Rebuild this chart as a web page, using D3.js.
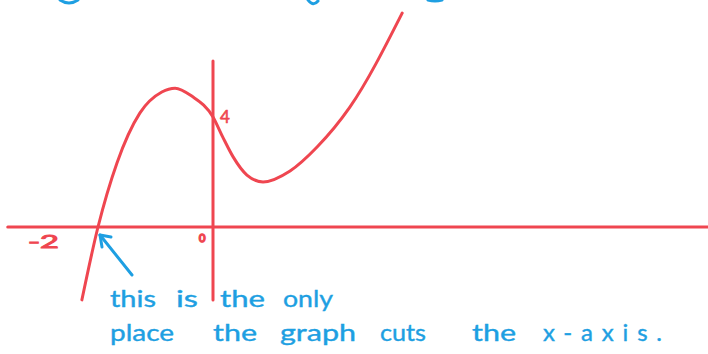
<!DOCTYPE html>
<html>
<head>
<meta charset="utf-8">
<script src="https://cdn.jsdelivr.net/npm/d3@7"></script>
<style>
  html, body { margin: 0; padding: 0; background: #ffffff; }
  svg { display: block; }
</style>
</head>
<body>
<svg id="chart" width="708" height="354"></svg>
<script>
// ---- data ----
const curveX = [-2.28, -2, -1.67, -1.27, -0.89, -0.66, -0.37, 0, 0.17, 0.35, 0.59, 0.87, 1.34, 1.81, 2.38, 3.29];
const curveY = [-2.65, 0, 2.33, 4.15, 4.91, 5.05, 4.76, 4, 3.27, 2.55, 1.89, 1.64, 2.04, 2.91, 4.36, 7.78];
const xAxisExtent = [-3.57, 8.6];
const yAxisExtent = [-2.65, 6.04];
const xTickLabels = ["-2", "0"];
const xTickValues = [-2, 0];
const yTickLabels = ["4"];
const yTickValues = [4];
const root = [-2, 0];
const noteLine1 = ["this", "is", "the", "only"];
const noteLine2 = ["place", "the", "graph", "cuts", "the", "x-axis."];

// ---- layout ----
const RED = "#ef4650";
const BLUE = "#1e9fe2";
const svg = d3.select("#chart");

const x = d3.scaleLinear().domain([-2, 0]).range([98, 213]);
const y = d3.scaleLinear().domain([0, 4]).range([227, 117]);

// axes
svg.append("line")
  .attr("x1", x(xAxisExtent[0])).attr("x2", x(xAxisExtent[1]))
  .attr("y1", y(0)).attr("y2", y(0))
  .attr("stroke", RED).attr("stroke-width", 3).attr("stroke-linecap", "round");
svg.append("line")
  .attr("x1", x(0)).attr("x2", x(0))
  .attr("y1", y(yAxisExtent[0])).attr("y2", y(yAxisExtent[1]))
  .attr("stroke", RED).attr("stroke-width", 3).attr("stroke-linecap", "round");

// curve
const pts = curveX.map((v, i) => [v, curveY[i]]);
const line = d3.line().x(d => x(d[0])).y(d => y(d[1])).curve(d3.curveMonotoneX);
svg.append("path")
  .attr("d", line(pts))
  .attr("fill", "none").attr("stroke", RED).attr("stroke-width", 3)
  .attr("stroke-linecap", "round").attr("stroke-linejoin", "round");

// tick labels
const labelFont = "Lato, 'Open Sans', sans-serif";
svg.append("text")
  .attr("x", x(xTickValues[0]) - 70).attr("y", y(0) + 21)
  .attr("font-family", labelFont).attr("font-size", 17)
  .attr("textLength", 31).attr("lengthAdjust", "spacingAndGlyphs")
  .attr("fill", RED).attr("stroke", RED).attr("stroke-width", 0.9)
  .text(xTickLabels[0]);
svg.append("text")
  .attr("x", x(xTickValues[1]) - 14).attr("y", y(0) + 15)
  .attr("font-family", labelFont).attr("font-size", 11)
  .attr("fill", "none").attr("stroke", RED).attr("stroke-width", 1.6)
  .text(xTickLabels[1]);
svg.append("text")
  .attr("x", x(0) + 7).attr("y", y(yTickValues[0]) + 6)
  .attr("font-family", labelFont).attr("font-size", 17)
  .attr("fill", RED).attr("stroke", RED).attr("stroke-width", 0.6)
  .text(yTickLabels[0]);

// arrow pointing at the root
const tip = [x(root[0]) + 2, y(root[1]) + 8];
svg.append("path")
  .attr("d", `M${tip[0] + 32},${tip[1] + 40} L${tip[0]},${tip[1]}`)
  .attr("fill", "none").attr("stroke", BLUE).attr("stroke-width", 3).attr("stroke-linecap", "round");
svg.append("path")
  .attr("d", `M${tip[0] + 2},${tip[1] + 12} L${tip[0]},${tip[1]} L${tip[0] + 11},${tip[1] + 2}`)
  .attr("fill", "none").attr("stroke", BLUE).attr("stroke-width", 3)
  .attr("stroke-linecap", "round").attr("stroke-linejoin", "round");

// handwritten note
const noteFont = "Lato, 'Open Sans', sans-serif";
const line1Pos = [[110, 46], [176, 22], [220, 45], [283, 50]];
const line2Pos = [[110, 64], [213, 44], [280, 76], [380, 46], [472, 44], [543, 119]];
function writeWords(words, pos, baseY) {
  svg.append("g").selectAll("text").data(words).join("text")
    .attr("x", (d, i) => pos[i][0]).attr("y", baseY)
    .attr("textLength", (d, i) => pos[i][1])
    .attr("lengthAdjust", d => d.length > 6 ? "spacing" : "spacingAndGlyphs")
    .attr("font-family", noteFont).attr("font-size", 24)
    .attr("fill", BLUE).attr("stroke", BLUE).attr("stroke-width", 0.4)
    .text(d => d);
}
writeWords(noteLine1, line1Pos, 307);
writeWords(noteLine2, line2Pos, 341);

// fragments of the cut-off heading at the top edge
const frag = [
  "M60,0 Q69,6 78,0",
  "M308,0 Q313,7 318,1",
  "M428,0 Q435,2 442,0"
];
svg.append("g").selectAll("path").data(frag).join("path")
  .attr("d", d => d).attr("fill", "none").attr("stroke", BLUE)
  .attr("stroke-width", 3).attr("stroke-linecap", "round");
</script>
</body>
</html>
